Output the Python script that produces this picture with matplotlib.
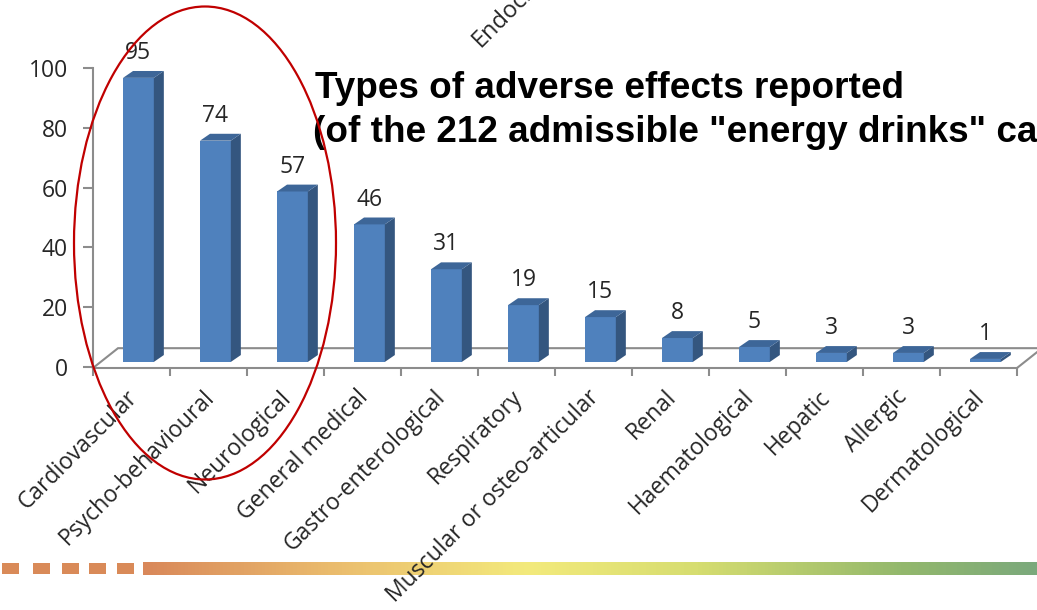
import numpy as np
import matplotlib
matplotlib.use("Agg")
import matplotlib.pyplot as plt
from matplotlib.patches import Polygon, Ellipse, Rectangle
from matplotlib.colors import LinearSegmentedColormap

plt.rcParams['font.family'] = ['Open Sans', 'DejaVu Sans']

categories = ["Cardiovascular", "Psycho-behavioural", "Neurological", "General medical",
              "Gastro-enterological", "Respiratory", "Muscular or osteo-articular", "Renal",
              "Haematological", "Hepatic", "Allergic", "Dermatological"]
counts = [95, 74, 57, 46, 31, 19, 15, 8, 5, 3, 3, 1]
yticks = [0, 20, 40, 60, 80, 100]

title_1 = "Types of adverse effects reported"
title_2 = '(of the 212 admissible "energy drinks" cases)'

# colours
c_front = "#4F81BD"
c_side = "#34567F"
c_top = "#3D6698"
c_axis = "#8C8C8C"
c_text = "#262626"

W, H = 1037, 610
fig = plt.figure(figsize=(W / 100, H / 100), dpi=100)

# decorative footer first so the labels sit on top of it
grad = LinearSegmentedColormap.from_list(
    "footer", [(0, "#D9885A"), (0.22, "#EBBE6E"), (0.43, "#F3EA7C"),
               (0.62, "#D6DD70"), (0.85, "#93B86C"), (1, "#7BA97C")])
gax = fig.add_axes([143 / W, 1 - 575 / H, (W - 143) / W, 13 / H])
gax.imshow(np.linspace(0, 1, 256)[None, :], aspect="auto", cmap=grad)
gax.axis("off")
gax.set_zorder(-1)
for xs in [2, 33, 62, 89, 117]:
    fig.add_artist(Rectangle((xs / W, 1 - 574 / H), 17 / W, 11 / H, transform=fig.transFigure,
                             fc="#D98A58", ec="none", zorder=-1))

# axes placed so 0..12 spans px 93..1017 and -0.33..100 spans px 368..68
ax = fig.add_axes([93 / W, (H - 368) / H, 924 / W, 300 / H])
ax.patch.set_alpha(0)
ax.set_xlim(0, 12)
ax.set_ylim(-0.33, 100)
for s in ["top", "right"]:
    ax.spines[s].set_visible(False)
for s in ["left", "bottom"]:
    ax.spines[s].set_color(c_axis)
    ax.spines[s].set_linewidth(1.5)

ax.set_yticks(yticks)
ax.set_yticklabels([str(t) for t in yticks], fontsize=16.5, color=c_text)
ax.tick_params(axis="y", length=7, width=1.5, color=c_axis, pad=11)
ax.set_xticks(range(13))
ax.set_xticklabels([])
ax.tick_params(axis="x", length=5.5, width=1.5, color=c_axis)

# 3D floor outline
dx_floor, dy_floor = 0.325, 6.3
ax.plot([0, dx_floor, 12 + dx_floor, 12], [-0.33, dy_floor, dy_floor, -0.33],
        color=c_axis, lw=1.5, clip_on=False, zorder=1, solid_joinstyle="miter")

# bars with fake depth
base = 1.7
x0, bw = 0.39, 0.40
ddx, ddy = 0.13, 2.3
for i, v in enumerate(counts):
    left = i + x0
    right = left + bw
    top = base + v
    ax.bar(left, v, width=bw, bottom=base, align="edge", color=c_front,
           zorder=3, clip_on=False, linewidth=0)
    ax.add_patch(Polygon([[right, base], [right + ddx, base + ddy],
                          [right + ddx, top + ddy], [right, top]],
                         closed=True, fc=c_side, ec="none", zorder=3, clip_on=False))
    ax.add_patch(Polygon([[left, top], [left + ddx, top + ddy],
                          [right + ddx, top + ddy], [right, top]],
                         closed=True, fc=c_top, ec="none", zorder=3, clip_on=False))
    ax.text(left + bw / 2, top + 6.3, str(v), ha="center", va="baseline",
            fontsize=16.5, color=c_text, zorder=4)

# rotated category labels
for i, lab in enumerate(categories):
    ax.text(i + 0.53, -9, lab, rotation=45, rotation_mode="anchor",
            ha="right", va="center", fontsize=16.5, color=c_text, clip_on=False)

# title (runs off the slide edge)
fig.text(315 / W, 1 - 98 / H, title_1, fontsize=26.6, fontweight="bold",
         family="Liberation Sans", color="black", va="baseline")
fig.text(313 / W, 1 - 142 / H, title_2, fontsize=26.6, fontweight="bold",
         family="Liberation Sans", color="black", va="baseline")

# stray rotated label at the top of the slide
fig.text(481 / W, 1 - 48 / H, "Endocrinological", rotation=45, rotation_mode="anchor",
         ha="left", va="baseline", fontsize=17, color=c_text)

# red ellipse highlighting the first three categories
fig.add_artist(Ellipse((205 / W, 1 - 243 / H), 262 / W, 473 / H, transform=fig.transFigure,
                       fill=False, ec="#C00000", lw=1.6, zorder=10))

fig.savefig("out.png", dpi=100)
